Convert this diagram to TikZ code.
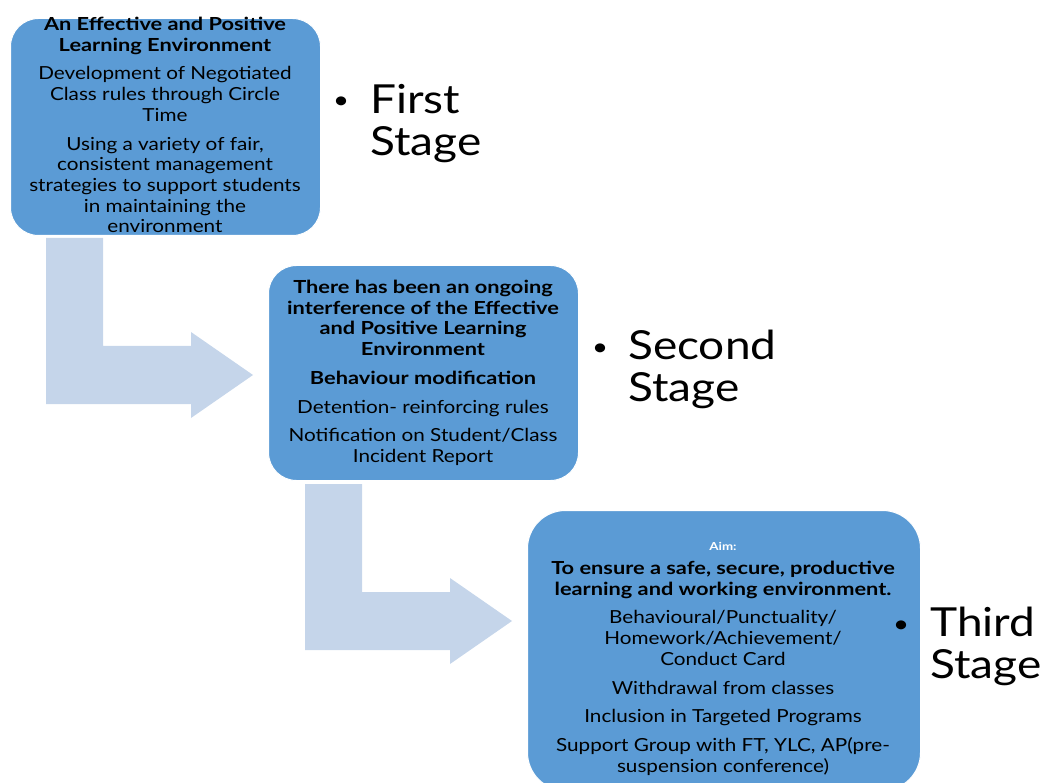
\documentclass[tikz,border=0pt]{standalone}
\usepackage{fontspec}
\setmainfont{Lato}[FakeStretch=1.15, BoldFeatures={FakeStretch=1.21}]
\definecolor{boxblue}{HTML}{5B9BD5}
\definecolor{arrowblue}{HTML}{C5D5EA}
\begin{document}
\begin{tikzpicture}[x=1pt,y=-1pt,
  box/.style={rounded corners=28pt, fill=boxblue, draw=white, line width=1pt, anchor=north west, inner sep=0pt},
  boxtext/.style={align=center, inner sep=0pt, anchor=north, font=\fontsize{18}{20.7}\selectfont, text=black},
  stagetext/.style={anchor=north west, align=left, inner sep=0pt, font=\fontsize{40}{42}\selectfont},
  bulletdot/.style={inner sep=0pt, font=\fontsize{24}{24}\selectfont}]
\useasboundingbox (0,0) rectangle (1041,783);
\clip (0,0) rectangle (1041,783);
% arrows
\fill[arrowblue] (46,238) -- (103,238) -- (103,346) -- (191,346) -- (191,332) -- (253,375) -- (191,418) -- (191,404) -- (46,404) -- cycle;
\begin{scope}[shift={(259,246)}]
\fill[arrowblue] (46,238) -- (103,238) -- (103,346) -- (191,346) -- (191,332) -- (253,375) -- (191,418) -- (191,404) -- (46,404) -- cycle;
\end{scope}
% boxes
\node[box, minimum width=310pt, minimum height=217pt] (b1) at (10,18) {};
\node[box, minimum width=310pt, minimum height=215pt] (b2) at (268,265) {};
\node[box, rounded corners=38pt, minimum width=393pt, minimum height=280pt] (b3) at (527,510) {};
% box texts
\node[boxtext] (t1) at (165,17) {\bfseries An Effective and Positive\\\bfseries Learning Environment\\[8pt]
Development of  Negotiated\\Class rules  through Circle\\Time\\[8pt]
Using a variety of fair,\\consistent management\\strategies to support students\\in maintaining the\\environment};
\node[boxtext] (t2) at (423,280) {\bfseries There has been an ongoing\\\bfseries interference of the Effective\\\bfseries and Positive Learning\\\bfseries Environment\\[8pt]
\bfseries Behaviour modification\\[8pt]
Detention- reinforcing rules\\[8pt]
Notification on Student/Class\\Incident Report};
\node[inner sep=0pt, text=white, font=\fontsize{11}{12}\selectfont\bfseries] (aim) at (723,546) {Aim:};
\node[boxtext] (t3) at (723,561) {\bfseries To ensure a safe, secure, productive\\\bfseries learning and working environment.\\[8pt]
Behavioural/Punctuality/\\Homework/Achievement/\\Conduct Card\\[8pt]
Withdrawal from classes\\[8pt]
Inclusion in Targeted Programs\\[8pt]
Support Group with FT, YLC, AP(pre-\\suspension conference)};
% stage labels
\node[bulletdot] (d1) at (341,103) {•};
\node[stagetext] (s1) at (370,84) {First\\Stage};
\node[bulletdot] (d2) at (600,350) {•};
\node[stagetext] (s2) at (628,330) {Second\\Stage};
\node[bulletdot] (d3) at (901,627) {•};
\node[stagetext] (s3) at (930,607) {Third\\Stage};
\end{tikzpicture}
\end{document}
